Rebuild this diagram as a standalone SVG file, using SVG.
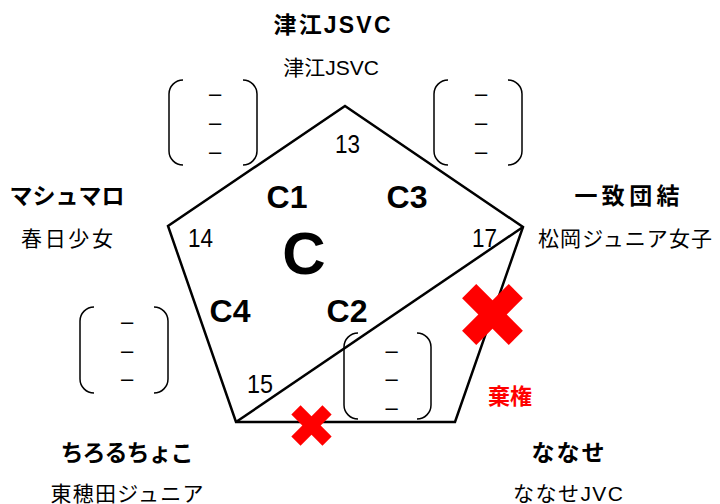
<svg xmlns="http://www.w3.org/2000/svg" width="720" height="504" viewBox="0 0 720 504">
<defs>
<style>
.title{font-family:"Liberation Sans","Noto Sans CJK JP",sans-serif;font-weight:bold;font-size:23px;text-anchor:middle;fill:#000}
.sub{font-family:"Liberation Sans","Noto Sans CJK JP",sans-serif;font-size:21px;text-anchor:middle;fill:#000}
.num{font-family:"Liberation Sans",sans-serif;font-size:26px;fill:#000}
.grp{font-family:"Liberation Sans",sans-serif;font-weight:bold;font-size:32px;text-anchor:middle;fill:#000}
.dash{font-family:"Liberation Sans",sans-serif;font-size:22px;text-anchor:middle;fill:#000}
.br{fill:none;stroke:#000;stroke-width:1.5}
.edge{fill:none;stroke:#000;stroke-width:2.5;stroke-linejoin:miter}
.x{fill:#ff0000}
</style>
</defs>
<rect width="720" height="504" fill="#fff"/>

<g id="connectors">
<polygon class="edge" points="345,106 523,227 455,422 236,422 168,226"/>
<line class="edge" x1="236" y1="422" x2="523" y2="227"/>
</g>

<g id="group-labels">
<text class="grp" x="287" y="208">C1</text>
<text class="grp" x="407" y="208">C3</text>
<text class="grp" x="230" y="322">C4</text>
<text class="grp" x="347" y="322">C2</text>
<text class="grp" x="304" y="274" style="font-size:60px">C</text>
</g>

<g id="numbers">
<text class="num" x="335" y="153" textLength="25" lengthAdjust="spacingAndGlyphs">13</text>
<text class="num" x="188" y="247" textLength="25" lengthAdjust="spacingAndGlyphs">14</text>
<text class="num" x="472" y="247" textLength="25" lengthAdjust="spacingAndGlyphs">17</text>
<text class="num" x="247" y="393" textLength="26" lengthAdjust="spacingAndGlyphs">15</text>
</g>

<g id="score-tl">
<path class="br" d="M183,80 A14,14 0 0 0 169,94 L169,151 A14,14 0 0 0 183,165"/>
<path class="br" d="M243,80 A14,14 0 0 1 257,94 L257,151 A14,14 0 0 1 243,165"/>
<text class="dash" x="215" y="101">–</text>
<text class="dash" x="215" y="130">–</text>
<text class="dash" x="215" y="159">–</text>
</g>

<g id="score-tr">
<path class="br" d="M448,80 A14,14 0 0 0 434,94 L434,151 A14,14 0 0 0 448,165"/>
<path class="br" d="M508,80 A14,14 0 0 1 522,94 L522,151 A14,14 0 0 1 508,165"/>
<text class="dash" x="481" y="101">–</text>
<text class="dash" x="481" y="130">–</text>
<text class="dash" x="481" y="159">–</text>
</g>

<g id="score-bl">
<path class="br" d="M94,307 A14,14 0 0 0 80,321 L80,379 A14,14 0 0 0 94,393"/>
<path class="br" d="M154,307 A14,14 0 0 1 168,321 L168,379 A14,14 0 0 1 154,393"/>
<text class="dash" x="127" y="329">–</text>
<text class="dash" x="127" y="358">–</text>
<text class="dash" x="127" y="386">–</text>
</g>

<g id="score-mid">
<path class="br" d="M358,333 A14,14 0 0 0 344,347 L344,405 A14,14 0 0 0 358,419"/>
<path class="br" d="M417,333 A14,14 0 0 1 431,347 L431,405 A14,14 0 0 1 417,419"/>
<text class="dash" x="391.5" y="358">–</text>
<text class="dash" x="391.5" y="386">–</text>
<text class="dash" x="391.5" y="415">–</text>
</g>

<g id="forfeit-marks">
<g transform="translate(492.5,314.5) rotate(45)">
<rect class="x" x="-33" y="-10" width="66" height="20"/>
<rect class="x" x="-10" y="-33" width="20" height="66"/>
</g>
<g transform="translate(311.5,425.5) rotate(45)">
<rect class="x" x="-22" y="-6.5" width="44" height="13"/>
<rect class="x" x="-6.5" y="-22" width="13" height="44"/>
</g>
<text x="510" y="404" style="font-family:'Liberation Sans','Noto Sans CJK JP',sans-serif;font-weight:bold;font-size:22px;fill:#ff0000;text-anchor:middle">棄権</text>
</g>

<g id="team-tsue">
<text class="title" x="332" y="33" textLength="117">津江JSVC</text>
<text class="sub" x="331" y="75">津江JSVC</text>
</g>

<g id="team-mashumaro">
<text class="title" x="67" y="204">マシュマロ</text>
<text class="sub" x="67" y="246" textLength="92">春日少女</text>
</g>

<g id="team-icchi">
<text class="title" x="627" y="204" textLength="105">一致団結</text>
<text class="sub" x="625" y="246" textLength="174">松岡ジュニア女子</text>
</g>

<g id="team-chiroru">
<text class="title" x="127" y="461" textLength="133">ちろるちょこ</text>
<text class="sub" x="127" y="501" textLength="153">東穂田ジュニア</text>
</g>

<g id="team-nanase">
<text class="title" x="568" y="461" textLength="73">ななせ</text>
<text class="sub" x="568" y="501" textLength="110">ななせJVC</text>
</g>
</svg>
